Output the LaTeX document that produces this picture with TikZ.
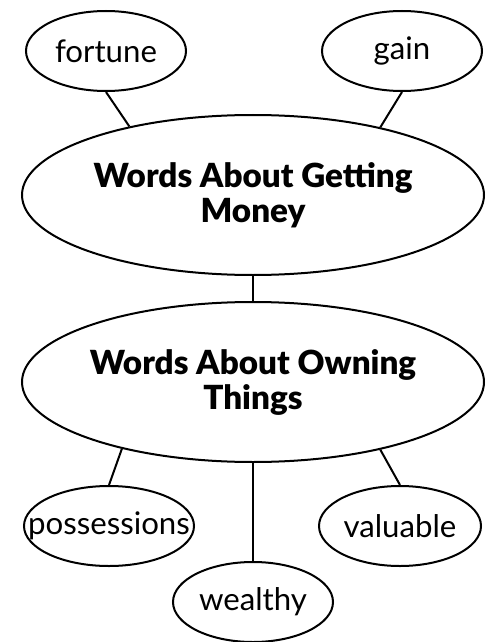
\documentclass[tikz,border=0pt]{standalone}
\usepackage{fontspec}
\setmainfont{Lato}[BoldFont={Lato Black}]
\usetikzlibrary{shapes.geometric}

\begin{document}
\begin{tikzpicture}[x=0.5pt, y=-0.5pt, line width=1pt,
  every node/.style={draw, ellipse, inner sep=0pt, font=\fontsize{15.6}{17.5}\selectfont},
  word/.style={minimum width=80pt, minimum height=40pt},
  topic/.style={minimum width=231pt, minimum height=80pt, align=center, font=\fontsize{16.6}{17.5}\selectfont\bfseries}]
\useasboundingbox (0,0) rectangle (493,642);
% top words
\node[word] (fortune) at (106,51) {\makebox[0pt]{fortune}};
\node[word] (gain) at (402,51) {\makebox[0pt]{gain}};
% the two topics
\node[topic] (getting) at (253,195) {Words About Getting\\Money};
\node[topic] (owning) at (253,382) {Words About Owning\\Things};
% bottom words
\node[word, minimum width=85pt] (possessions) at (109,526) {\makebox[0pt]{possessions}};
\node[word] (wealthy) at (253,602) {\makebox[0pt]{wealthy}};
\node[word, minimum width=81pt] (valuable) at (400,526) {\makebox[0pt]{valuable}};
\draw (fortune.south) -- (getting.151);
\draw (gain.south) -- (getting.28);
\draw (getting.south) -- (owning.north);
\draw (owning.207) -- (possessions.north);
\draw (owning.south) -- (wealthy.north);
\draw (owning.332) -- (valuable.north);
\end{tikzpicture}
\end{document}
